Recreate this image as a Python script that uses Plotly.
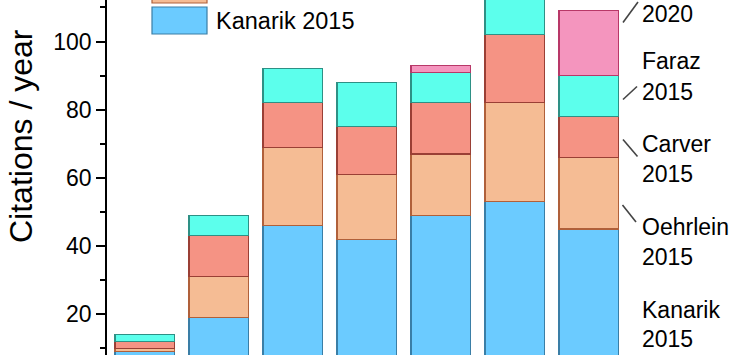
import plotly.graph_objects as go

categories = ["2015", "2016", "2017", "2018", "2019", "2020", "2021"]
kanarik = [9, 19, 46, 42, 49, 53, 45]
oehrlein = [1, 12, 23, 19, 18, 29, 21]
carver = [2, 12, 13, 14, 15, 20, 12]
faraz = [2, 6, 10, 13, 9, 14, 12]
paper2020 = [None, None, None, None, 2, 8, 19]

series = [
    ("Kanarik 2015", kanarik, "#6BCBFF", "#3A7EA6"),
    ("Oehrlein 2015", oehrlein, "#F5BC94", "#B0603A"),
    ("Carver 2015", carver, "#F59384", "#9A3F35"),
    ("Faraz 2015", faraz, "#5CFFEC", "#2E9085"),
    ("2020", paper2020, "#F495BE", "#B83868"),
]

W, H = 738, 355
L, R, T, B = 107, 98, 0, 0
PW, PH = W - L - R, H - T - B

def px(x):
    return (x - L) / PW

def py(y):
    return 1 - (y - T) / PH

FONT = "Arial, Liberation Sans, sans-serif"

fig = go.Figure()
for name, vals, fill, edge in series:
    fig.add_trace(go.Bar(
        x=categories, y=vals, name=name,
        marker=dict(color=fill, line=dict(color=edge, width=1.2)),
        width=0.8, showlegend=False,
    ))

shapes = []
annotations = []

# y-axis title
annotations.append(dict(text="Citations / year", xref="paper", yref="paper",
                        x=px(21), y=py(136), textangle=-90, showarrow=False,
                        font=dict(size=32, color="black", family=FONT),
                        xanchor="center", yanchor="middle"))

# legend (drawn manually to match large swatches); the upper entry is cut off at the top edge
shapes.append(dict(type="rect", xref="paper", yref="paper",
                   x0=px(152), x1=px(207), y0=py(3), y1=py(-24),
                   fillcolor="#F5BC94", line=dict(color="#B0603A", width=1.2)))
shapes.append(dict(type="rect", xref="paper", yref="paper",
                   x0=px(152), x1=px(207), y0=py(34), y1=py(7),
                   fillcolor="#6BCBFF", line=dict(color="#3A7EA6", width=1.2)))
annotations.append(dict(text="Kanarik 2015", xref="paper", yref="paper", x=px(214), y=py(20.5),
                        xanchor="left", yanchor="middle", showarrow=False,
                        font=dict(size=23.5, color="black", family=FONT)))

# right-side series labels
right_labels = [
    ("2020", [0]),
    ("Faraz|2015", [61, 92]),
    ("Carver|2015", [144, 174]),
    ("Oehrlein|2015", [227, 257]),
    ("Kanarik|2015", [310, 339]),
]
for text, ys in right_labels:
    parts = text.split("|")
    for t, yy in zip(parts, ys):
        top = (yy == 0)
        annotations.append(dict(text=t, xref="paper", yref="paper", x=px(641),
                                y=py(yy) if not top else 1.0,
                                xanchor="left", yanchor="top" if top else "middle",
                                showarrow=False, borderpad=0,
                                font=dict(size=23, color="black", family=FONT)))

leaders = [((623, 22.5), (638, 2)), ((623, 99.5), (637, 86.5)),
           ((623, 139.5), (637.5, 156.5)), ((622.5, 205), (636, 222))]
for (x0, y0), (x1, y1) in leaders:
    shapes.append(dict(type="line", xref="paper", yref="paper",
                       x0=px(x0), y0=py(y0), x1=px(x1), y1=py(y1),
                       line=dict(color="#444444", width=1.6)))

ZERO_PX, UNIT = 382.5, 3.41
ymin = (ZERO_PX - (H - B)) / UNIT
ymax = (ZERO_PX - T) / UNIT
xmin = -(144.5 - L) / 74.0
xmax = (L + PW - 144.5) / 74.0

fig.update_layout(
    width=W, height=H, margin=dict(l=L, r=R, t=T, b=B),
    barmode="stack", bargap=0.2,
    plot_bgcolor="white", paper_bgcolor="white",
    font=dict(family=FONT, color="black"),
    shapes=shapes, annotations=annotations,
    xaxis=dict(range=[xmin, xmax], showticklabels=False, ticks="", showline=False,
               showgrid=False, zeroline=False),
    yaxis=dict(range=[ymin, ymax], tick0=0, dtick=20, ticks="outside", ticklen=9,
               tickwidth=1.6, tickcolor="black", showline=True, linecolor="black",
               linewidth=1.6, showgrid=False, zeroline=False,
               tickfont=dict(size=23, color="black", family=FONT),
               minor=dict(dtick=10, ticks="outside", ticklen=5, tickwidth=1.6, tickcolor="black")),
)

fig.write_html("out.html", config={"displayModeBar": False},
               post_script="document.body.style.margin='0';document.body.style.overflow='hidden';")
